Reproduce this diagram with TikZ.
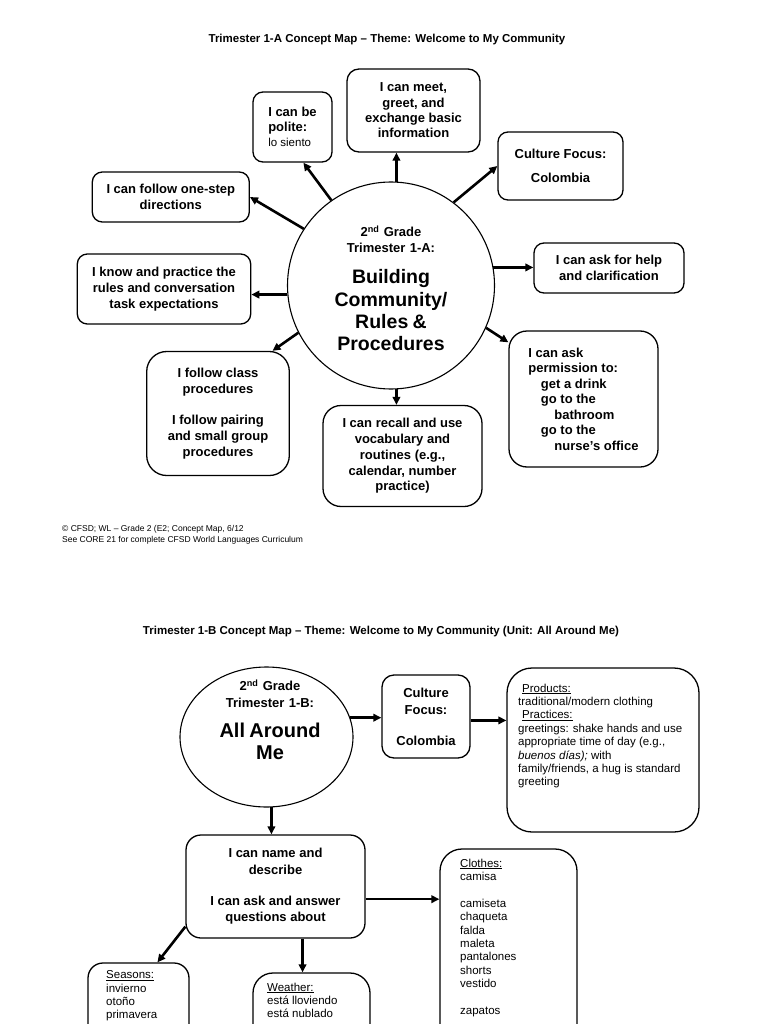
\documentclass[tikz,border=0pt]{standalone}
\usepackage{fontspec}
\setmainfont{Liberation Sans}
\usetikzlibrary{arrows.meta,shapes.geometric,calc}
\newcommand{\fsz}[2]{\fontsize{#1}{#2}\selectfont}

\begin{document}
\begin{tikzpicture}[x=1pt,y=-1pt,
  box/.style={draw,line width=1.3pt,rounded corners=10pt,align=center,inner sep=0pt,font=\fsz{13}{15.7}\bfseries},
  list/.style={align=left,inner sep=0pt,anchor=north west,font=\fsz{11.5}{13.4}},
  arr/.style={line width=2.6pt,-{Triangle[length=8pt,width=7.5pt]}},
  title/.style={font=\fsz{11.5}{14}\bfseries},
  note/.style={font=\fsz{8.5}{11},align=left,anchor=north west,inner sep=0pt}]
   \useasboundingbox (0,0) rectangle (768,1024);
   \fill[white] (0,0) rectangle (768,1024);
   \clip (0,0) rectangle (768,1024);

   \node[title] (t1) at (387,40) {Trimester 1-A Concept Map -- Theme: Welcome to My Community};
   \node[circle,draw,line width=1.1pt,minimum size=207pt,inner sep=0pt,text width=150pt,align=center,font=\fsz{13}{16}\bfseries] (c1) at (391,285.5)
     {\rule{0pt}{16.5pt}2\textsuperscript{nd} Grade\\Trimester 1-A:\par\vspace{9pt}\fsz{19.5}{22.4}Building\\Community/\\Rules \&\\Procedures\par};
   \node[box,minimum width=79pt,minimum height=70pt,align=left,font=\fsz{13}{15}\bfseries] (polite) at (292.5,127) {I can be\\polite:\\{\mdseries\fsz{11.5}{15}lo siento}};
   \node[box,rounded corners=12pt,minimum width=133pt,minimum height=83pt,font=\fsz{13}{15.3}\bfseries] (meet) at (413.5,110.5) {I can meet,\\greet, and\\exchange basic\\information};
   \node[box,minimum width=125pt,minimum height=68pt] (culture) at (560.5,166) {Culture Focus:\\[8pt]Colombia};
   \node[box,minimum width=157pt,minimum height=50pt] (onestep) at (170.8,197) {I can follow one-step\\directions};
   \node[box,minimum width=150pt,minimum height=50pt] (help) at (609,268) {I can ask for help\\and clarification};
   \node[box,minimum width=173.4pt,minimum height=70pt] (rules) at (164,289) {I know and practice the\\rules and conversation\\task expectations};
   \node[box,rounded corners=20pt,minimum width=142.6pt,minimum height=124pt] (class) at (218,413.5) {I follow class\\procedures\\[16pt]I follow pairing\\and small group\\procedures};
   \node[box,rounded corners=18pt,minimum width=149pt,minimum height=136pt,align=left,font=\fsz{13}{15.5}\bfseries] (perm) at (583.5,399)
     {I can ask\\permission to:\\\hspace*{12.5pt}get a drink\\\hspace*{12.5pt}go to the\\\hspace*{26pt}bathroom\\\hspace*{12.5pt}go to the\\\hspace*{26pt}nurse's office};
   \node[box,rounded corners=18pt,minimum width=159pt,minimum height=101pt] (recall) at (402.5,456) {I can recall and use\\vocabulary and\\routines (e.g.,\\calendar, number\\practice)};
   \node[note] (foot) at (62,525) {\textcopyright{} CFSD; WL -- Grade 2 (E2; Concept Map, 6/12\\See CORE 21 for complete CFSD World Languages Curriculum};

   \draw[arr] (c1.125) -- (polite.-73);
   \draw[arr] (c1.87) -- (c1.87 |- meet.south);
   \draw[arr] (c1.53) -- (culture.west);
   \draw[arr] (c1.147) -- (onestep.east);
   \draw[arr] (c1.10) -- (c1.10 -| help.west);
   \draw[arr] (c1.185) -- (c1.185 -| rules.east);
   \draw[arr] (c1.207) -- (class.49);
   \draw[arr] (c1.-24) -- (perm.143);
   \draw[arr] (c1.-87) -- (c1.-87 |- recall.north);

   \node[title] (t2) at (381,632) {Trimester 1-B Concept Map -- Theme: Welcome to My Community (Unit: All Around Me)};
   \node[ellipse,draw,line width=1.1pt,minimum width=173pt,minimum height=140pt,inner sep=0pt] (ell) at (266.5,737) {};
   \node[text width=140pt,align=center,inner sep=0pt,font=\fsz{13}{17}\bfseries] (elltxt) at (270,720)
     {2\textsuperscript{nd} Grade\\Trimester 1-B:\par\vspace{8pt}\fsz{20}{22}All Around\\Me\par};
   \node[box,rounded corners=12pt,minimum width=88pt,minimum height=83pt,font=\fsz{13}{17}\bfseries] (cf2) at (426,716.5) {Culture\\Focus:\\[14pt]Colombia};
   \node[box,rounded corners=25pt,minimum width=192pt,minimum height=164pt] (prod) at (603,750) {};
   \node[list] (prodtxt) at (518,683.5)
     {\hspace*{4pt}\underline{Products:}\\traditional/modern clothing\\\hspace*{4pt}\underline{Practices:}\\greetings: shake hands and use\\appropriate time of day (e.g.,\\\textit{buenos días);} with\\family/friends, a hug is standard\\greeting};
   \node[box,rounded corners=15pt,minimum width=179pt,minimum height=103pt,font=\fsz{13}{16.5}\bfseries] (name) at (275.5,886.5)
     {I can name and\\describe\\[14.5pt]I can ask and answer\\questions about};
   \node[box,rounded corners=22pt,minimum width=137pt,minimum height=240pt] (clothes) at (508.5,969) {};
   \node[list] (clothestxt) at (460,858.5)
     {\underline{Clothes:}\\camisa\\[13.4pt]camiseta\\chaqueta\\falda\\maleta\\pantalones\\shorts\\vestido\\[13.4pt]zapatos};
   \node[box,rounded corners=15pt,minimum width=101pt,minimum height=100pt] (seasons) at (138.5,1013) {};
   \node[list] (seasonstxt) at (106,970.5) {\underline{Seasons:}\\invierno\\otoño\\primavera};
   \node[box,rounded corners=20pt,minimum width=117pt,minimum height=100pt] (weather) at (311.5,1023) {};
   \node[list] (weathertxt) at (267,982.5) {\underline{Weather:}\\está lloviendo\\está nublado};

   \draw[arr] (ell.13) -- (ell.13 -| cf2.west);
   \draw[arr] (cf2.-5) -- (cf2.-5 -| prod.west);
   \draw[arr] (ell.-86) -- (ell.-86 |- name.north);
   \draw[arr] (name.-8) -- (name.-8 -| clothes.west);
   \draw[arr] (name.204) -- ($(seasons.north)!0.37!(seasons.north east)$);
   \coordinate (nb) at ($(name.south)!0.3!(name.south east)$);
   \draw[arr] (nb) -- (nb |- weather.north);
\end{tikzpicture}
\end{document}
